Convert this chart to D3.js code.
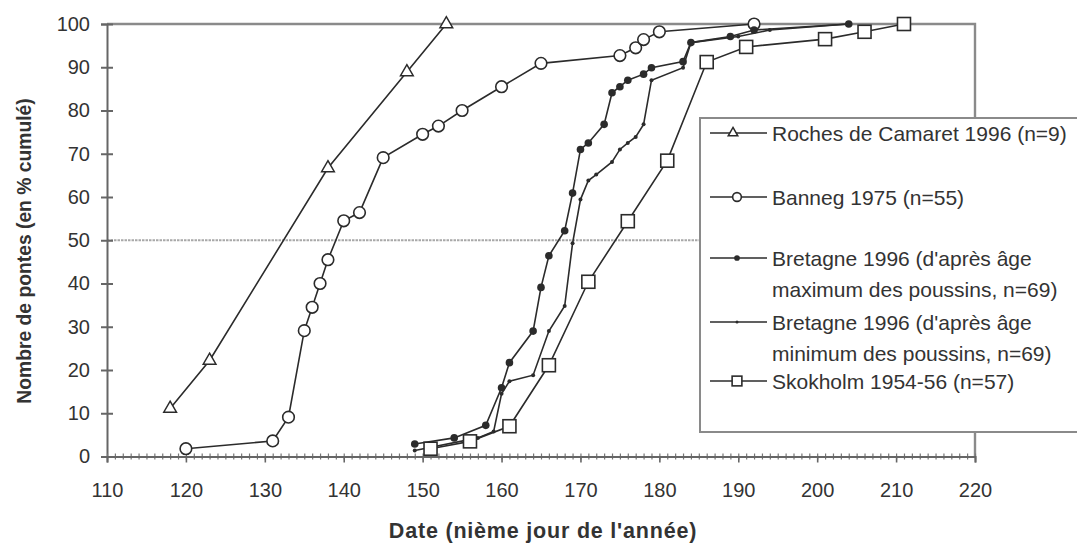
<!DOCTYPE html>
<html>
<head>
<meta charset="utf-8">
<script src="https://cdn.jsdelivr.net/npm/d3@7/dist/d3.min.js"></script>
<style>
  html, body { margin: 0; padding: 0; background: #fff; }
  svg { display: block; font-family: "Liberation Sans", Arial, sans-serif; }
</style>
</head>
<body>
<svg id="chart" width="1077" height="546"></svg>
<script>
// Cumulative laying dates (% of clutches) per colony, by day of year
const camaretDays = [118, 123, 138, 148, 153];
const camaretPct  = [11.1, 22.2, 66.7, 88.9, 100];

const bannegDays = [120, 131, 133, 135, 136, 137, 138, 140, 142, 145, 150, 152, 155, 160, 165, 175, 177, 178, 180, 192];
const bannegPct  = [1.8, 3.6, 9.1, 29.1, 34.5, 40.0, 45.5, 54.5, 56.4, 69.1, 74.5, 76.4, 80.0, 85.5, 90.9, 92.7, 94.5, 96.4, 98.2, 100];

const bretMaxDays = [149, 154, 158, 160, 161, 164, 165, 166, 168, 169, 170, 171, 173, 174, 175, 176, 178, 179, 183, 184, 189, 192, 204];
const bretMaxPct  = [2.9, 4.3, 7.2, 15.9, 21.7, 29.0, 39.1, 46.4, 52.2, 60.9, 71.0, 72.5, 76.8, 84.1, 85.5, 87.0, 88.4, 89.9, 91.3, 95.7, 97.1, 98.6, 100];

const bretMinDays = [149, 157, 159, 160, 161, 164, 166, 168, 169, 170, 171, 172, 174, 175, 176, 177, 178, 179, 183, 184, 190, 194, 204];
const bretMinPct  = [1.4, 4.3, 5.8, 14.5, 17.4, 18.8, 29.0, 34.8, 49.3, 59.4, 63.8, 65.2, 68.1, 71.0, 72.5, 73.9, 76.8, 87.0, 89.9, 95.7, 97.1, 98.6, 100];

const skokDays = [151, 156, 161, 166, 171, 176, 181, 186, 191, 201, 206, 211];
const skokPct  = [1.8, 3.5, 7.0, 21.1, 40.4, 54.4, 68.4, 91.2, 94.7, 96.5, 98.2, 100];

const xTicks = [110, 120, 130, 140, 150, 160, 170, 180, 190, 200, 210, 220];
const yTicks = [0, 10, 20, 30, 40, 50, 60, 70, 80, 90, 100];

const legendLabels = [
  ["Roches de Camaret 1996 (n=9)"],
  ["Banneg 1975 (n=55)"],
  ["Bretagne 1996 (d'après âge", "maximum des poussins, n=69)"],
  ["Bretagne 1996 (d'après âge", "minimum des poussins, n=69)"],
  ["Skokholm 1954-56 (n=57)"]
];

const xTitle = "Date (nième jour de l'année)";
const yTitle = "Nombre de pontes (en % cumulé)";

const series = [
  { days: camaretDays, pct: camaretPct, marker: "triangle" },
  { days: bannegDays,  pct: bannegPct,  marker: "circle" },
  { days: bretMaxDays, pct: bretMaxPct, marker: "dot" },
  { days: bretMinDays, pct: bretMinPct, marker: "small" },
  { days: skokDays,    pct: skokPct,    marker: "square" }
];

const ink = "#2b2b2b";
const svg = d3.select("#chart");

const x = d3.scaleLinear().domain([110, 220]).range([107, 975]);
const y = d3.scaleLinear().domain([0, 100]).range([456.5, 24]);

// Plot frame (top and right edges)
svg.append("path")
  .attr("d", `M${x(110)},${y(100)}H${x(220)}V${y(0)}`)
  .attr("fill", "none").attr("stroke", "#8a8a8a").attr("stroke-width", 2.4);

// Reference line at 50 %
svg.append("line")
  .attr("x1", x(110)).attr("x2", x(220))
  .attr("y1", y(50)).attr("y2", y(50))
  .attr("stroke", "#a8a8a8").attr("stroke-width", 2)
  .attr("stroke-dasharray", "2.5,1");

// Y axis with ticks crossing the line
const yAxis = svg.append("g").attr("transform", `translate(${x(110)},0)`)
  .call(d3.axisLeft(y).tickValues(yTicks).tickSize(6).tickPadding(11));
yAxis.select(".domain").attr("stroke", "#666").attr("stroke-width", 2);
yAxis.selectAll(".tick line").attr("x1", 6).attr("stroke", "#666").attr("stroke-width", 2);
yAxis.selectAll(".tick text")
  .attr("font-size", 20).attr("fill", "#333")
  .attr("font-family", "'Liberation Sans', Arial, sans-serif");

// X axis: minor day ticks, then labelled major ticks
const minor = svg.append("g").attr("transform", `translate(0,${y(0)})`)
  .call(d3.axisBottom(x).tickValues(d3.range(110, 221, 1)).tickSize(3).tickFormat(""));
minor.select(".domain").remove();
minor.selectAll(".tick line").attr("y1", -3).attr("stroke", "#777").attr("stroke-width", 1.2);

const xAxis = svg.append("g").attr("transform", `translate(0,${y(0)})`)
  .call(d3.axisBottom(x).tickValues(xTicks).tickSize(6).tickPadding(20));
xAxis.select(".domain").attr("stroke", "#666").attr("stroke-width", 2);
xAxis.selectAll(".tick line").attr("stroke", "#666").attr("stroke-width", 1.6);
xAxis.selectAll(".tick text")
  .attr("font-size", 20).attr("fill", "#333")
  .attr("font-family", "'Liberation Sans', Arial, sans-serif");

// Marker drawing (k scales the marker size)
function drawMarker(sel, kind, k = 1) {
  if (kind === "triangle") {
    sel.append("path").attr("d", d3.symbol(d3.symbolTriangle, 70 * k * k)())
      .attr("fill", "#fff").attr("stroke", ink).attr("stroke-width", 1.5);
  } else if (kind === "circle") {
    sel.append("circle").attr("r", 5.8 * k)
      .attr("fill", "#fff").attr("stroke", ink).attr("stroke-width", 1.6);
  } else if (kind === "dot") {
    sel.append("circle").attr("r", 3.8 * k).attr("fill", ink);
  } else if (kind === "small") {
    sel.append("circle").attr("r", 2 * k).attr("fill", ink);
  } else if (kind === "square") {
    const h = 6.5 * k;
    sel.append("rect").attr("x", -h).attr("y", -h).attr("width", 2 * h).attr("height", 2 * h)
      .attr("fill", "#fff").attr("stroke", ink).attr("stroke-width", 1.6);
  }
}

const line = d3.line().x(d => x(d[0])).y(d => y(d[1]));

series.forEach(s => {
  const pts = s.days.map((d, i) => [d, s.pct[i]]);
  const g = svg.append("g");
  g.append("path").datum(pts).attr("d", line)
    .attr("fill", "none").attr("stroke", ink).attr("stroke-width", 1.6);
  g.selectAll("g.m").data(pts).enter().append("g")
    .attr("transform", d => `translate(${x(d[0])},${y(d[1])})`)
    .each(function () { drawMarker(d3.select(this), s.marker); });
});

// Axis titles
svg.append("text")
  .attr("x", 543).attr("y", 538)
  .attr("text-anchor", "middle").attr("font-size", 21.5).attr("font-weight", "bold")
  .attr("fill", "#333").attr("letter-spacing", 0.8)
  .text(xTitle);

svg.append("text")
  .attr("transform", "translate(31,251) rotate(-90)")
  .attr("text-anchor", "middle").attr("font-size", 19.3).attr("font-weight", "bold")
  .attr("fill", "#333")
  .text(yTitle);

// Legend
const lg = svg.append("g");
lg.append("rect")
  .attr("x", 700).attr("y", 118).attr("width", 390).attr("height", 314)
  .attr("fill", "#fff").attr("stroke", "#8a8a8a").attr("stroke-width", 2);

const rowY = [133, 197, 258, 322, 381];
const markerX = [733, 737, 737, 737, 737];
legendLabels.forEach((lines, i) => {
  const row = lg.append("g").attr("transform", `translate(0,${rowY[i]})`);
  row.append("line").attr("x1", 710).attr("x2", 767).attr("y1", 0).attr("y2", 0)
    .attr("stroke", ink).attr("stroke-width", 1.6);
  const m = row.append("g").attr("transform", `translate(${markerX[i]},0)`);
  drawMarker(m, series[i].marker, 0.75);
  lines.forEach((t, j) => {
    row.append("text")
      .attr("x", 772).attr("y", j * 31.5).attr("dy", "0.36em")
      .attr("font-size", 21).attr("fill", "#333")
      .text(t);
  });
});
</script>
</body>
</html>
